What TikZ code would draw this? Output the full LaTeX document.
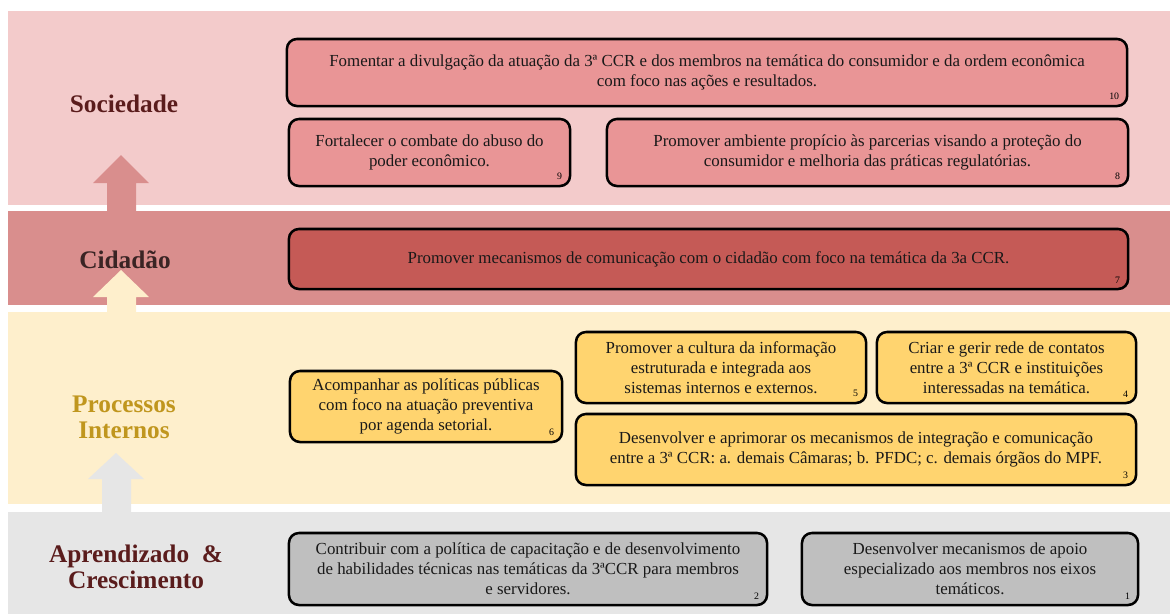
\documentclass[tikz,border=0pt]{standalone}
\usepackage{fontspec}
\setmainfont{Liberation Serif}
\definecolor{socband}{HTML}{F3CBCB}
\definecolor{socbox}{HTML}{E99596}
\definecolor{cidband}{HTML}{D98E8D}
\definecolor{cidbox}{HTML}{C55A56}
\definecolor{proband}{HTML}{FEEFCC}
\definecolor{probox}{HTML}{FFD46F}
\definecolor{aprband}{HTML}{E6E6E6}
\definecolor{aprbox}{HTML}{BFBFBF}
\definecolor{maroon}{HTML}{5A1C1C}
\definecolor{cidtxt}{HTML}{3A2424}
\definecolor{gold}{HTML}{C0961E}
\tikzset{
  objbox/.style = {draw=black, line width=1.8pt, rounded corners=0.25cm, align=center, inner sep=0pt, text=black!90, font=\fontsize{12}{14.2}\selectfont},
  obj_s/.style = {objbox, fill=socbox, minimum height=1.675cm},
  obj_c/.style = {objbox, fill=cidbox, minimum height=1.5cm},
  obj_p/.style = {objbox, fill=probox, minimum height=1.775cm},
  obj_a/.style = {objbox, fill=aprbox, minimum height=1.8cm},
  persp/.style = {align=center, inner sep=0pt, text=maroon, font=\fontsize{18}{18.5}\selectfont\bfseries},
  obj_nr/.style = {anchor=south east, inner sep=0pt, text=black, font=\fontsize{7}{8}\selectfont}
}

\begin{document}
\begin{tikzpicture}[x=0.025cm, y=-0.025cm]
\useasboundingbox (0,0) rectangle (1170,614);
% bands
\fill[socband] (8,11) rectangle (1170,205);
\fill[cidband] (8,211) rectangle (1170,305);
\fill[proband] (8,312) rectangle (1170,504);
\fill[aprband] (8,512) rectangle (1170,614);
% arrows between the bands
\fill[cidband] (107,211) -- (107,183) -- (93,183) -- (121,155) -- (149,183) -- (136,183) -- (136,211) -- cycle;
\fill[proband] (107,312) -- (107,297) -- (93,297) -- (121,270) -- (149,297) -- (136,297) -- (136,312) -- cycle;
\fill[aprband] (102,512) -- (102,479) -- (88,479) -- (116,453) -- (144,479) -- (131,479) -- (131,512) -- cycle;

% perspectives
\node [persp] (soc) at (124,104) {Sociedade};
\node [persp, text=cidtxt] (cid) at (125,260) {Cidadão};
\node [persp, text=gold] (pro) at (124,417) {Processos\\Internos};
\node [persp] (apr) at (136,567) {Aprendizado~~\&\\Crescimento};

% objectives
\node [obj_s, minimum width=21cm] (o10) at (707,72.5)
	{Fomentar a divulgação da atuação da 3ª CCR e dos membros na temática do consumidor e da ordem econômica\\com foco nas ações e resultados.};
\node [obj_s, minimum width=7.025cm] (o9) at (429.5,152.5)
	{Fortalecer o combate do abuso do\\poder econômico.};
\node [obj_s, minimum width=13.025cm] (o8) at (867.5,152.5)
	{Promover ambiente propício às parcerias visando a proteção do\\consumidor e melhoria das práticas regulatórias.};
\node [obj_c, minimum width=20.975cm] (o7) at (708.5,259)
	{Promover mecanismos de comunicação com o cidadão com foco na temática da 3a CCR.};
\node [obj_p, minimum width=6.8cm] (o6) at (426,406.5)
	{Acompanhar as políticas públicas\\com foco na atuação preventiva\\por agenda setorial.};
\node [obj_p, minimum width=7.25cm] (o5) at (721,367.5)
	{Promover a cultura da informação\\estruturada e integrada aos\\sistemas internos e externos.};
\node [obj_p, minimum width=6.475cm] (o4) at (1006.5,367.5)
	{Criar e gerir rede de contatos\\entre a 3ª CCR e instituições\\interessadas na temática.};
\node [obj_p, minimum width=14cm] (o3) at (856,449.5)
	{Desenvolver e aprimorar os mecanismos de integração e comunicação\\entre a 3ª CCR: a. demais Câmaras; b. PFDC; c. demais órgãos do MPF.};
\node [obj_a, minimum width=11.95cm] (o2) at (528,569)
	{Contribuir com a política de capacitação e de desenvolvimento\\de habilidades técnicas nas temáticas da 3ªCCR para membros\\e servidores.};
\node [obj_a, minimum width=8.4cm] (o1) at (970,569)
	{Desenvolver mecanismos de apoio\\especializado aos membros nos eixos\\temáticos.};

% numbers
\foreach \n in {1,...,10}
	\node [obj_nr] at ([shift={(-9,-7)}]o\n.south east) {\n};
\end{tikzpicture}
\end{document}
